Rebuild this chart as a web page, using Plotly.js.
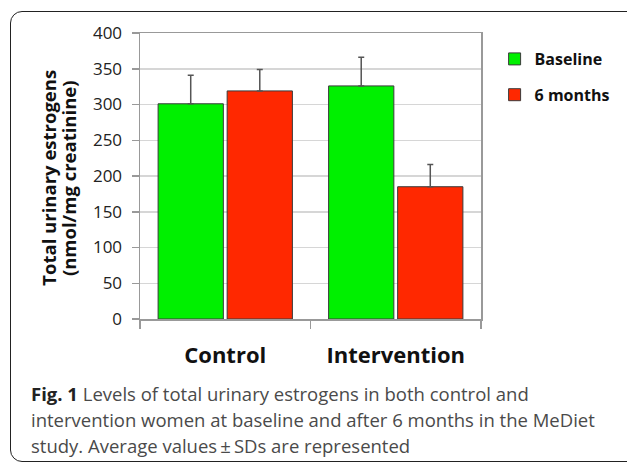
<!DOCTYPE html>
<html>
<head>
<meta charset="utf-8">
<script src="https://cdn.plot.ly/plotly-3.0.1.min.js"></script>
<style>
  html, body { margin:0; padding:0; background:#fff; overflow:hidden; }
  #wrap { position:relative; width:627px; height:463px; overflow:hidden; }
  #frame { position:absolute; left:10px; top:11px; width:640px; height:451px;
           border:1.5px solid #222; border-radius:12px; box-sizing:border-box; }
  #chart { position:absolute; left:0; top:0; width:627px; height:463px; }
</style>
</head>
<body>
<div id="wrap">
  <div id="frame"></div>
  <div id="chart"></div>
</div>
<script>
// Data
const categories = ["Control", "Intervention"];
const baseline = [301, 326];
const baselineSD = [40, 40];
const sixMonths = [319, 185];
const sixMonthsSD = [30, 31];
const zeros = [0, 0];
const yTicks = [0, 50, 100, 150, 200, 250, 300, 350, 400];
const seriesNames = ["Baseline", "6 months"];
const captionLines = [
  "<b style=\"color:#222\">Fig. 1</b> Levels of total urinary estrogens in both control and",
  "intervention women at baseline and after 6 months in the MeDiet",
  "study. Average values\u2009\u00b1\u2009SDs are represented"
];
const yTitleLines = ["<b>Total urinary estrogens</b>", "<b>(nmol/mg creatinine)</b>"];

const W = 627, H = 463;
const L = 140, R = 491, T = 33, B = 319;
const pw = R - L, ph = B - T;
const px = x => (x - L) / pw;
const py = y => (B - y) / ph;

const errStyle = { color: "#555", thickness: 1.5, width: 3 };

const traces = [
  {
    type: "bar", name: seriesNames[0], x: categories, y: baseline,
    legendgroup: "a",
    marker: { color: "#00f000", line: { color: "#3a3a3a", width: 1 } },
    error_y: Object.assign({ type: "data", symmetric: false, array: baselineSD, arrayminus: zeros }, errStyle)
  },
  {
    type: "bar", name: seriesNames[1], x: categories, y: sixMonths,
    legendgroup: "b",
    marker: { color: "#ff2800", line: { color: "#3a3a3a", width: 1 } },
    error_y: Object.assign({ type: "data", symmetric: false, array: sixMonthsSD, arrayminus: zeros }, errStyle)
  }
];

const annotations = captionLines.map((t, i) => ({
  text: t, xref: "paper", yref: "paper",
  x: px(26), y: py([393, 419, 445][i]),
  xanchor: "left", yanchor: "middle", showarrow: false,
  font: { family: "Open Sans, sans-serif", size: 18.5, color: "#4a4a4a" }
}));
yTitleLines.forEach((t, i) => annotations.push({
  text: t, xref: "paper", yref: "paper",
  x: px([45, 66][i]), y: py(178), xanchor: "center", yanchor: "middle",
  textangle: -90, showarrow: false,
  font: { family: "Open Sans, sans-serif", size: 18.5, color: "#111" }
}));

const layout = {
  width: W, height: H,
  margin: { l: L, r: W - R, t: T, b: H - B, pad: 0 },
  paper_bgcolor: "rgba(0,0,0,0)",
  plot_bgcolor: "#fff",
  barmode: "group",
  bargap: 0.19,
  bargroupgap: 0.055,
  showlegend: true,
  legend: {
    x: px(505), y: py(42), xanchor: "left", yanchor: "top",
    font: { family: "Open Sans, sans-serif", size: 16, color: "#111", weight: "bold" },
    tracegroupgap: 12, itemwidth: 30, bgcolor: "rgba(0,0,0,0)"
  },
  xaxis: {
    type: "category",
    tickson: "boundaries",
    ticks: "outside", ticklen: 8, tickcolor: "#999", tickwidth: 1.5,
    showline: true, linecolor: "#999", linewidth: 1.5,
    mirror: true,
    showgrid: false,
    tickfont: { family: "Open Sans, sans-serif", size: 22, color: "#111", weight: "bold" },
    ticklabelstandoff: 16,
    fixedrange: true
  },
  yaxis: {
    range: [0, 400],
    tickvals: yTicks,
    ticks: "outside", ticklen: 7, tickcolor: "#999", tickwidth: 1.5,
    showline: true, linecolor: "#999", linewidth: 1.5,
    mirror: true,
    showgrid: true, gridcolor: "#d6d6d6", gridwidth: 1.5,
    zeroline: false,
    tickfont: { family: "Open Sans, sans-serif", size: 17, color: "#222" },
    ticklabelstandoff: 6,
    fixedrange: true
  },
  annotations: annotations
};

Plotly.newPlot("chart", traces, layout, { displayModeBar: false, staticPlot: true });
</script>
</body>
</html>
